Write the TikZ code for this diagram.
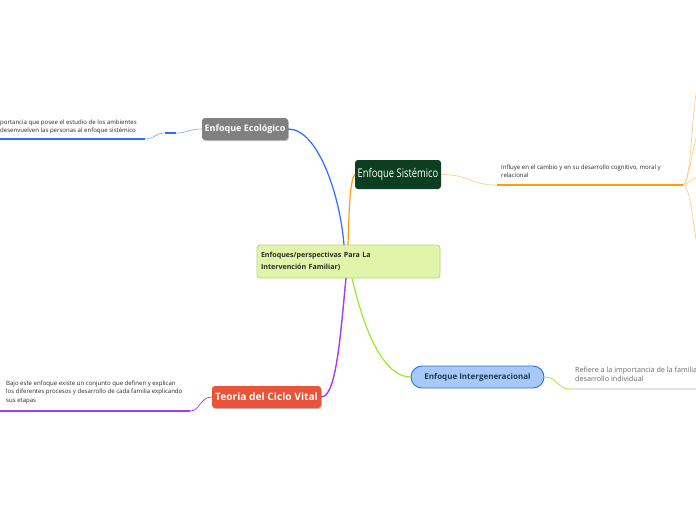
\documentclass[tikz,border=0pt]{standalone}
\usepackage{fontspec}
\setmainfont{Open Sans}
\definecolor{cfill}{HTML}{E0F5A9}
\definecolor{cdraw}{HTML}{B5DA6C}
\definecolor{ecofill}{HTML}{808080}
\definecolor{sisfill}{HTML}{0B3F1F}
\definecolor{intfill}{HTML}{A6C9F9}
\definecolor{intdraw}{HTML}{2A6FDB}
\definecolor{intext}{HTML}{1C3D4F}
\definecolor{teofill}{HTML}{E8533A}
\definecolor{cblue}{HTML}{2F6BFF}
\definecolor{cblueL}{HTML}{8FB0FF}
\definecolor{corange}{HTML}{FF9F0F}
\definecolor{corangeL}{HTML}{FFD08A}
\definecolor{clime}{HTML}{9BEA2A}
\definecolor{cpurple}{HTML}{A83AF0}
\definecolor{cgrayline}{HTML}{E3E3E3}
\definecolor{ctext}{HTML}{2A2A2A}
\definecolor{cgtext}{HTML}{6A6A6A}
\begin{document}
\begin{tikzpicture}[x=1pt,y=-1pt,
  box/.style={rectangle,rounded corners=3pt,inner sep=0pt,font=\bfseries\fontsize{9}{10}\selectfont,text=white},
  shadowed/.style={preaction={fill=black!25,transform canvas={xshift=0.8pt,yshift=-1pt}}},
  note/.style={anchor=north west,inner sep=0pt,align=left,font=\fontsize{6.05}{8.5}\selectfont,text=ctext},
  thin/.style={line width=0.7pt},
  thick/.style={line width=2pt}]
\clip (0,0) rectangle (696,520);
\fill[white] (0,0) rectangle (696,520);

% central
\node[rectangle,rounded corners=3pt,fill=cfill,draw=cdraw,line width=0.8pt,minimum width=183pt,minimum height=33pt,
  text width=175pt,align=left,inner sep=0pt,font=\bfseries\fontsize{7.1}{12.5}\selectfont,text=ctext] (c) at (348.5,261.5)
  {Enfoques/perspectivas Para La\\Intervención Familiar)};

% main topics
\node[box,shadowed,fill=ecofill,minimum width=86pt,minimum height=22pt] (eco) at (245,129) {Enfoque Ecológico};
\node[box,fill=sisfill,minimum width=86pt,minimum height=29pt,font=\fontsize{12}{13}\selectfont] (sis) at (398,174.5) {\scalebox{0.78}[1]{Enfoque Sistémico}};
\node[rectangle,rounded corners=11pt,fill=intfill,draw=intdraw,line width=0.9pt,minimum width=133pt,minimum height=22pt,
  inner sep=0pt,font=\bfseries\fontsize{8}{9}\selectfont,text=intext] (int) at (477.5,377) {Enfoque Intergeneracional};
\node[box,shadowed,fill=teofill,minimum width=109pt,minimum height=22pt,font=\bfseries\fontsize{10.2}{11}\selectfont] (teo) at (266.5,397) {Teoria del Ciclo Vital};

% anchor coordinates on central node
\coordinate (cb) at (344,245);
\coordinate (co) at (348,245);
\coordinate (cl) at (352,278);
\coordinate (cp) at (346,278);

% main connectors
\draw[cblue,line width=1.2pt] (eco.east) .. controls (318,129) and (340,195) .. (cb);
\draw[corange,line width=1.2pt] (co) .. controls (349,210) and (350,180) .. (sis.west);
\draw[clime,line width=1.2pt] (cl) .. controls (365,335) and (385,377) .. (int.west);
\draw[cpurple,line width=1.4pt] (cp) .. controls (340,340) and (336,397) .. (teo.east);

% Ecologico branch
\coordinate (e1) at (176,133);
\coordinate (e2) at (165,133);
\coordinate (e3) at (145,139);
\coordinate (e4) at (0,139);
\draw[cblueL,thin] (eco.west) .. controls (188,129) and (188,133) .. (e1);
\draw[cblue,thick] (e1) -- (e2);
\draw[cblueL,thin] (e2) .. controls (155,133) and (155,139) .. (e3);
\draw[cblue,thick] (e3) -- (e4);
\node[note] (etext) at (0,119.5) {portancia que posee el estudio de los ambientes\\desenvuelven las personas al enfoque sistémico};

% Sistemico branch
\coordinate (s1) at (497,185);
\coordinate (s2) at (683,185);
\draw[corangeL,thin] (sis.east) .. controls (472,175) and (470,185) .. (s1);
\draw[corange,thick] (s1) -- (s2);
\node[note] (stext) at (501,164.5) {Influye en el cambio y en su desarrollo cognitivo, moral y\\relacional};
\coordinate (s3) at (697,88);
\coordinate (s4) at (697,135);
\coordinate (s5) at (697,178);
\coordinate (s6) at (697,245);
\draw[corangeL,thin] (s2) .. controls (691,185) and (692,110) .. (s3);
\draw[corangeL,thin] (s2) .. controls (689,182) and (692,150) .. (s4);
\draw[corangeL,thin] (s2) .. controls (688,184) and (692,178) .. (s5);
\draw[corangeL,thin] (s2) .. controls (691,188) and (693,225) .. (s6);

% Intergeneracional branch
\coordinate (i1) at (570,389);
\coordinate (i2) at (697,389);
\draw[clime,thin] (int.east) .. controls (558,377) and (557,389) .. (i1);
\draw[cgrayline,thick] (i1) -- (i2);
\node[note,text=cgtext,font=\fontsize{7.2}{9.4}\selectfont] (itext) at (575,366.5) {Refiere a la importancia de la familia\\desarrollo individual};

% Teoria branch
\coordinate (t1) at (190,411);
\coordinate (t2) at (0,411);
\draw[cpurple,thin] (teo.west) .. controls (200,397) and (200,411) .. (t1);
\draw[cpurple,thick] (t1) -- (t2);
\node[note] (ttext) at (6,380.5) {Bajo este enfoque existe un conjunto que definen y explican\\los diferentes procesos y desarrollo de cada familia explicando\\sus etapas};
\end{tikzpicture}
\end{document}
